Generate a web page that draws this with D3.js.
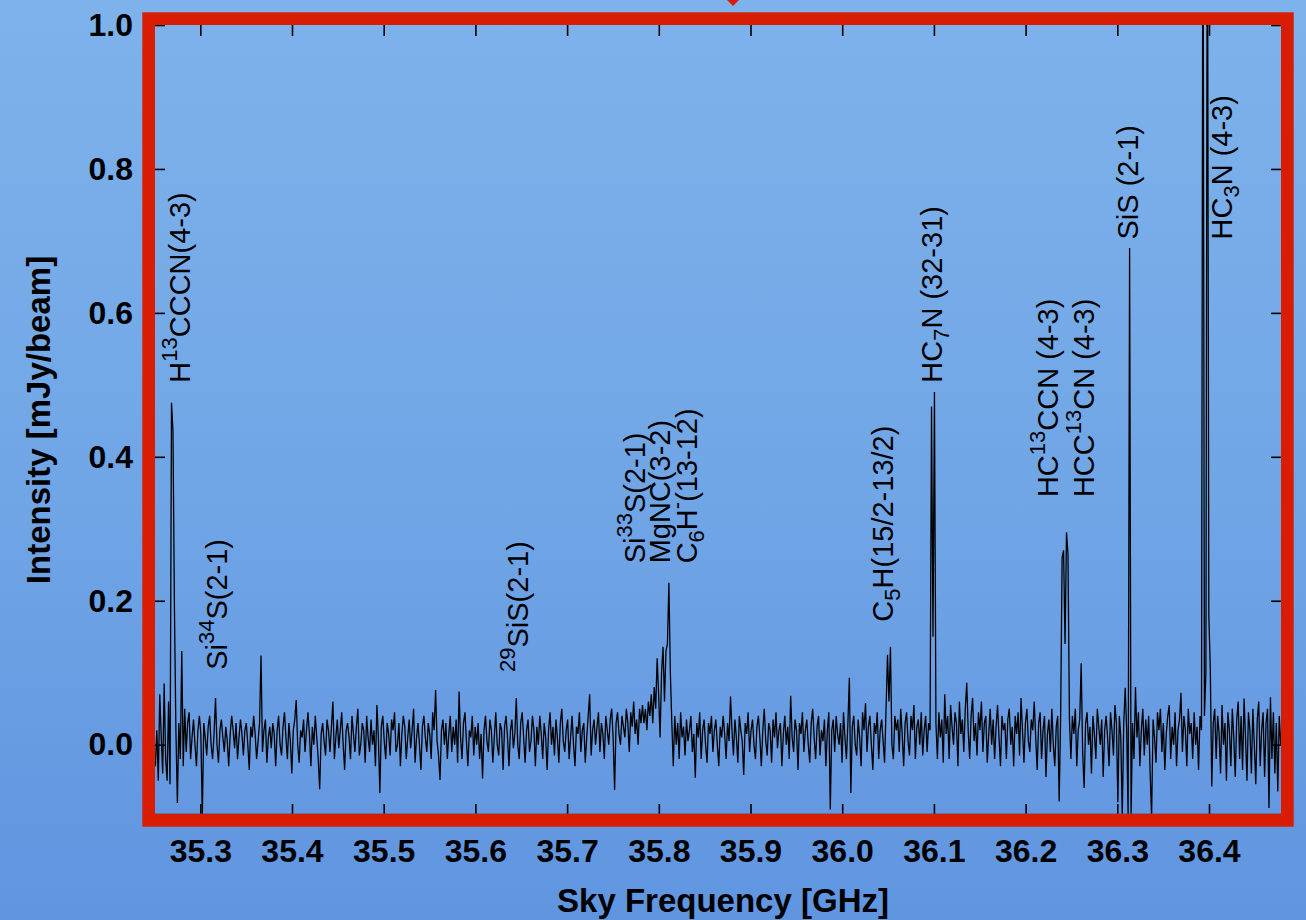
<!DOCTYPE html>
<html>
<head>
<meta charset="utf-8">
<script src="https://cdn.jsdelivr.net/npm/d3@7"></script>
<style>
  html, body { margin: 0; padding: 0; }
  body { width: 1306px; height: 920px; overflow: hidden; }
  svg text { font-family: "Liberation Sans", Arial, Helvetica, sans-serif; }
</style>
</head>
<body>
<svg id="chart"></svg>
<script>
// spectrum channels (GHz grid) and intensity (mJy/beam)
const freqStart = 35.251;
const freqStep = 0.0016;
const intensity = [
  -.03,.02,-.05,.07,.01,-.04,.085,-.02,-.05,.06,-.055,.475,.435,.19,.02,-.081,.03,-.02,.13,-.03,
  .05,-.01,.03,.045,-.02,.01,.035,.0,-.03,.02,.04,.015,-.1,.03,.01,-.015,.025,.04,.0,-.02,
  .015,.065,.0,-.025,.02,.035,.01,-.01,.025,.005,-.03,.015,.04,.02,-.005,.03,-.02,.01,.035,.015,
  -.015,.02,.03,.0,-.035,.025,.01,.04,.015,-.02,.005,.03,.124,-.01,.02,.035,-.025,.01,.025,-.005,
  .03,.015,-.03,.02,.04,.0,-.015,.025,.045,.01,-.02,.03,.005,-.04,.02,.035,.062,.0,-.025,.02,
  .01,.035,-.01,.02,.045,.015,-.03,.025,.0,.04,.01,-.02,-.062,.015,.03,.005,-.015,.035,.02,-.01,
  .025,.06,-.02,.01,.035,-.005,.02,.045,.0,-.035,.02,.03,.01,-.02,.04,.015,-.01,.025,.05,-.015,
  .0,.03,.02,-.025,.04,.01,-.01,.035,.0,.02,-.03,.055,.01,-.067,.025,.04,.005,-.02,.03,.015,
  -.015,.035,.02,.045,-.01,.0,.03,-.03,.015,.04,.025,-.02,.01,.035,-.005,.02,.05,-.025,.01,.03,
  .0,-.035,.025,.04,.01,-.01,.03,.015,-.02,.045,.02,.076,.005,-.015,-.049,.02,.035,.0,.03,-.02,
  .015,.04,-.01,.025,.0,.035,-.025,.074,.01,-.02,.03,.045,.005,-.03,.02,.01,.04,-.015,.025,.0,
  .03,-.02,.015,-.047,.02,.04,.005,-.01,.035,.02,-.025,.01,.045,.0,-.015,.03,.02,-.035,.025,.04,
  .01,-.03,.02,.035,-.005,.015,.065,.0,-.02,.03,.045,.01,-.025,.02,.035,-.01,.005,.04,.02,-.03,
  .025,.0,.04,.015,-.02,.03,.01,-.035,.02,.045,.0,.025,-.015,.035,.01,-.025,.03,.05,.005,-.01,
  .02,.035,-.02,.01,.04,.0,-.03,.025,.015,.045,-.01,.02,.03,-.025,.01,.04,.07,-.015,.02,.035,
  .0,.025,.045,-.01,.03,.015,-.02,.04,.02,.0,.035,.05,.01,-.063,.03,.045,.015,.0,.04,.025,
  .01,.05,.03,-.01,.045,.025,.06,.015,.035,.0,.05,.03,.055,.03,.05,.02,.06,.04,.07,.03,
  .08,.05,.12,.07,.01,.1,.136,.06,.13,.14,.225,.1,.03,-.03,.04,.0,.03,-.02,.045,.01,
  .025,-.015,.035,.005,.02,.04,-.01,.015,-.046,.03,.01,.045,-.02,.02,.035,.0,-.025,.03,.015,.04,
  -.01,.02,.035,.0,-.03,.025,.01,.04,.015,-.02,.03,.005,.067,.02,-.015,.035,.01,-.025,.04,.02,
  .005,-.042,.03,.015,.045,-.01,.02,.035,.0,-.02,.025,.04,.01,-.03,.02,.05,.005,-.015,.03,.02,
  -.025,.035,.01,.045,-.005,.02,.03,-.03,.015,.04,.0,.025,-.02,.068,.01,-.01,.035,.02,-.035,.03,
  .015,.045,-.01,.02,.035,.0,-.025,.03,.05,.01,-.02,.025,.04,-.015,.02,.005,.035,-.03,.02,.045,
  -.09,.02,.035,-.01,.04,.015,.0,.03,-.025,.045,.01,-.02,.03,.093,-.067,.025,.04,.0,-.015,.035,
  .01,-.03,.045,.02,.058,-.01,.025,.04,.0,-.035,.03,.015,.045,-.02,.02,.035,.005,-.025,.05,.125,
  .06,.136,.0,-.02,.04,.02,.035,-.01,.05,.015,-.03,.03,.045,.005,-.015,.04,.02,.055,-.02,.025,
  .035,.0,.045,-.015,.02,.04,-.01,.03,.02,.47,.15,.49,.03,-.02,.045,.01,.035,-.025,.07,.015,
  .04,-.02,.055,.025,.0,.045,.03,-.03,.06,.015,.035,-.01,.05,.086,.02,-.02,.04,.065,.005,.03,
  -.015,.045,.02,.06,-.01,.03,.04,-.025,.015,.05,.0,.035,-.02,.025,.055,.01,-.03,.04,.02,.03,
  -.02,.035,.05,.0,.025,-.03,.04,.015,.045,-.015,.065,.02,-.025,.03,.05,.005,-.01,.035,.02,.06,
  .01,-.035,.03,.045,-.02,.02,.04,-.045,.015,.035,-.01,.05,.0,-.03,.025,.04,-.079,.04,.26,.27,
  .14,.295,.265,.035,-.02,.04,.015,.05,-.03,.02,.035,.113,-.01,-.06,.03,.045,.0,.025,-.04,.04,
  .015,-.02,.05,.025,.0,.035,-.045,.02,.04,.01,-.03,.045,.02,-.015,.055,.03,-.08,.04,.01,-.1,
  .03,.079,.02,-.1,.69,-.1,.03,-.02,.08,.01,.045,-.03,.02,.05,-.015,.035,.0,.04,-.04,-.1,
  .035,.01,-.025,.045,.02,.05,-.01,.03,-.035,.015,.04,.055,-.02,.025,.0,.045,-.03,.02,.035,.072,
  -.01,.04,.02,-.03,.05,.015,.03,-.02,.045,.0,.025,-.035,.04,.02,1.3,.04,.1,1.3,.18,.106,
  -.058,.03,.05,-.02,.04,.015,-.04,.055,.0,.03,-.05,.045,.02,-.03,.05,.01,-.045,.035,.06,-.02,
  .04,-.035,.064,.01,-.05,.045,.02,-.04,.05,.0,-.055,.035,.06,-.03,.02,.045,-.045,.03,.05,-.088,
  .066,-.02,.045,-.04,.03,-.065,.04,.0
];

const xTicks = [35.3, 35.4, 35.5, 35.6, 35.7, 35.8, 35.9, 36.0, 36.1, 36.2, 36.3, 36.4];
const yTicks = [0.0, 0.2, 0.4, 0.6, 0.8, 1.0];

// line identifications: text pieces (n = normal, sup, sub), where the label sits
const labelParts = [
  [['H','n'],['13','sup'],['CCCN(4-3)','n']],
  [['Si','n'],['34','sup'],['S(2-1)','n']],
  [['29','sup'],['SiS(2-1)','n']],
  [['Si','n'],['33','sup'],['S(2-1)','n']],
  [['MgNC(3-2)','n']],
  [['C','n'],['6','sub'],['H','n'],['-','sup'],['(13-12)','n']],
  [['C','n'],['5','sub'],['H(15/2-13/2)','n']],
  [['HC','n'],['7','sub'],['N (32-31)','n']],
  [['HC','n'],['13','sup'],['CCN (4-3)','n']],
  [['HCC','n'],['13','sup'],['CN (4-3)','n']],
  [['SiS (2-1)','n']],
  [['HC','n'],['3','sub'],['N (4-3)','n']]
];
const labelFreq = [35.2888, 35.3295, 35.6574, 35.785, 35.8123, 35.8417, 36.0554, 36.1088, 36.2353, 36.2746, 36.3226, 36.4251];
const labelLevel = [0.503, 0.104, 0.101, 0.252, 0.252, 0.252, 0.171, 0.503, 0.344, 0.344, 0.702, 0.702];

const spectrum = intensity.map((v, i) => ({ f: freqStart + i * freqStep, v }));

// layout
const width = 1306;
const height = 920;
const plot = { left: 155, right: 1281, top: 25, bottom: 814 };
const frameW = 12.7;

const svg = d3.select('#chart')
  .attr('width', width)
  .attr('height', height);

const defs = svg.append('defs');
const grad = defs.append('linearGradient')
  .attr('id', 'bg')
  .attr('x1', 0).attr('y1', 0).attr('x2', 0).attr('y2', 1);
grad.append('stop').attr('offset', '0%').attr('stop-color', '#7db2eb');
grad.append('stop').attr('offset', '45%').attr('stop-color', '#73a8e7');
grad.append('stop').attr('offset', '100%').attr('stop-color', '#6095e0');

defs.append('clipPath').attr('id', 'clip')
  .append('rect')
  .attr('x', plot.left).attr('y', plot.top)
  .attr('width', plot.right - plot.left)
  .attr('height', plot.bottom - plot.top);

svg.append('rect')
  .attr('width', width).attr('height', height)
  .attr('fill', 'url(#bg)');

// scales
const x = d3.scaleLinear()
  .domain([35.2506, 36.4785])
  .range([plot.left, plot.right]);

const y = d3.scaleLinear()
  .domain([-0.0963, 1.0])
  .range([plot.bottom, plot.top]);

// spectrum
const line = d3.line()
  .x(d => x(d.f))
  .y(d => y(d.v));

svg.append('path')
  .datum(spectrum)
  .attr('clip-path', 'url(#clip)')
  .attr('fill', 'none')
  .attr('stroke', '#000')
  .attr('stroke-width', 1.3)
  .attr('d', line);

// axes: ticks point inward, labels outside the frame
const fmt = d3.format('.1f');

const bottomAxis = svg.append('g')
  .attr('transform', `translate(0,${plot.bottom})`)
  .call(d3.axisBottom(x).tickValues(xTicks).tickFormat(fmt).tickSize(-10).tickPadding(25));

const leftAxis = svg.append('g')
  .attr('transform', `translate(${plot.left},0)`)
  .call(d3.axisLeft(y).tickValues(yTicks).tickFormat(fmt).tickSize(-10).tickPadding(22));

const topAxis = svg.append('g')
  .attr('transform', `translate(0,${plot.top})`)
  .call(d3.axisTop(x).tickValues(xTicks).tickFormat('').tickSize(-11));

const rightAxis = svg.append('g')
  .attr('transform', `translate(${plot.right},0)`)
  .call(d3.axisRight(y).tickValues(yTicks).tickFormat('').tickSize(-10));

[bottomAxis, leftAxis, topAxis, rightAxis].forEach(g => {
  g.select('.domain').remove();
  g.selectAll('.tick line').attr('stroke', '#000').attr('stroke-width', 1.6);
  g.selectAll('.tick text')
    .attr('fill', '#000')
    .style('font-family', '"Liberation Sans", Arial, sans-serif')
    .style('font-size', '32px')
    .style('font-weight', 'bold');
});

// molecule labels, rotated
const labels = svg.append('g');
labelParts.forEach((parts, i) => {
  const t = labels.append('text')
    .attr('transform', `translate(${x(labelFreq[i])},${y(labelLevel[i])}) rotate(-90)`)
    .attr('font-size', 29)
    .attr('fill', '#000');
  let shift = 0;
  parts.forEach(([txt, kind]) => {
    const target = kind === 'sup' ? -13 : kind === 'sub' ? 7 : 0;
    t.append('tspan')
      .attr('dy', target - shift)
      .attr('font-size', kind === 'n' ? 29 : 22)
      .text(txt);
    shift = target;
  });
});

// red frame
svg.append('line')
  .attr('x1', plot.left).attr('x2', plot.right)
  .attr('y1', plot.bottom).attr('y2', plot.bottom)
  .attr('stroke', '#556').attr('stroke-width', 1);

svg.append('rect')
  .attr('x', plot.left - frameW / 2)
  .attr('y', plot.top - frameW / 2)
  .attr('width', plot.right - plot.left + frameW)
  .attr('height', plot.bottom - plot.top + frameW)
  .attr('fill', 'none')
  .attr('stroke', '#d81d04')
  .attr('stroke-width', frameW);

// small red marker at the top edge
svg.append('path')
  .attr('d', 'M727,0 L739,0 L733,6 Z')
  .attr('fill', '#d81d04');

// axis titles
svg.append('text')
  .attr('x', 723)
  .attr('y', 912)
  .attr('text-anchor', 'middle')
  .attr('font-size', 33)
  .attr('font-weight', 'bold')
  .text('Sky Frequency [GHz]');

svg.append('text')
  .attr('transform', 'translate(50,420) rotate(-90)')
  .attr('text-anchor', 'middle')
  .attr('font-size', 33)
  .attr('font-weight', 'bold')
  .text('Intensity [mJy/beam]');
</script>
</body>
</html>
